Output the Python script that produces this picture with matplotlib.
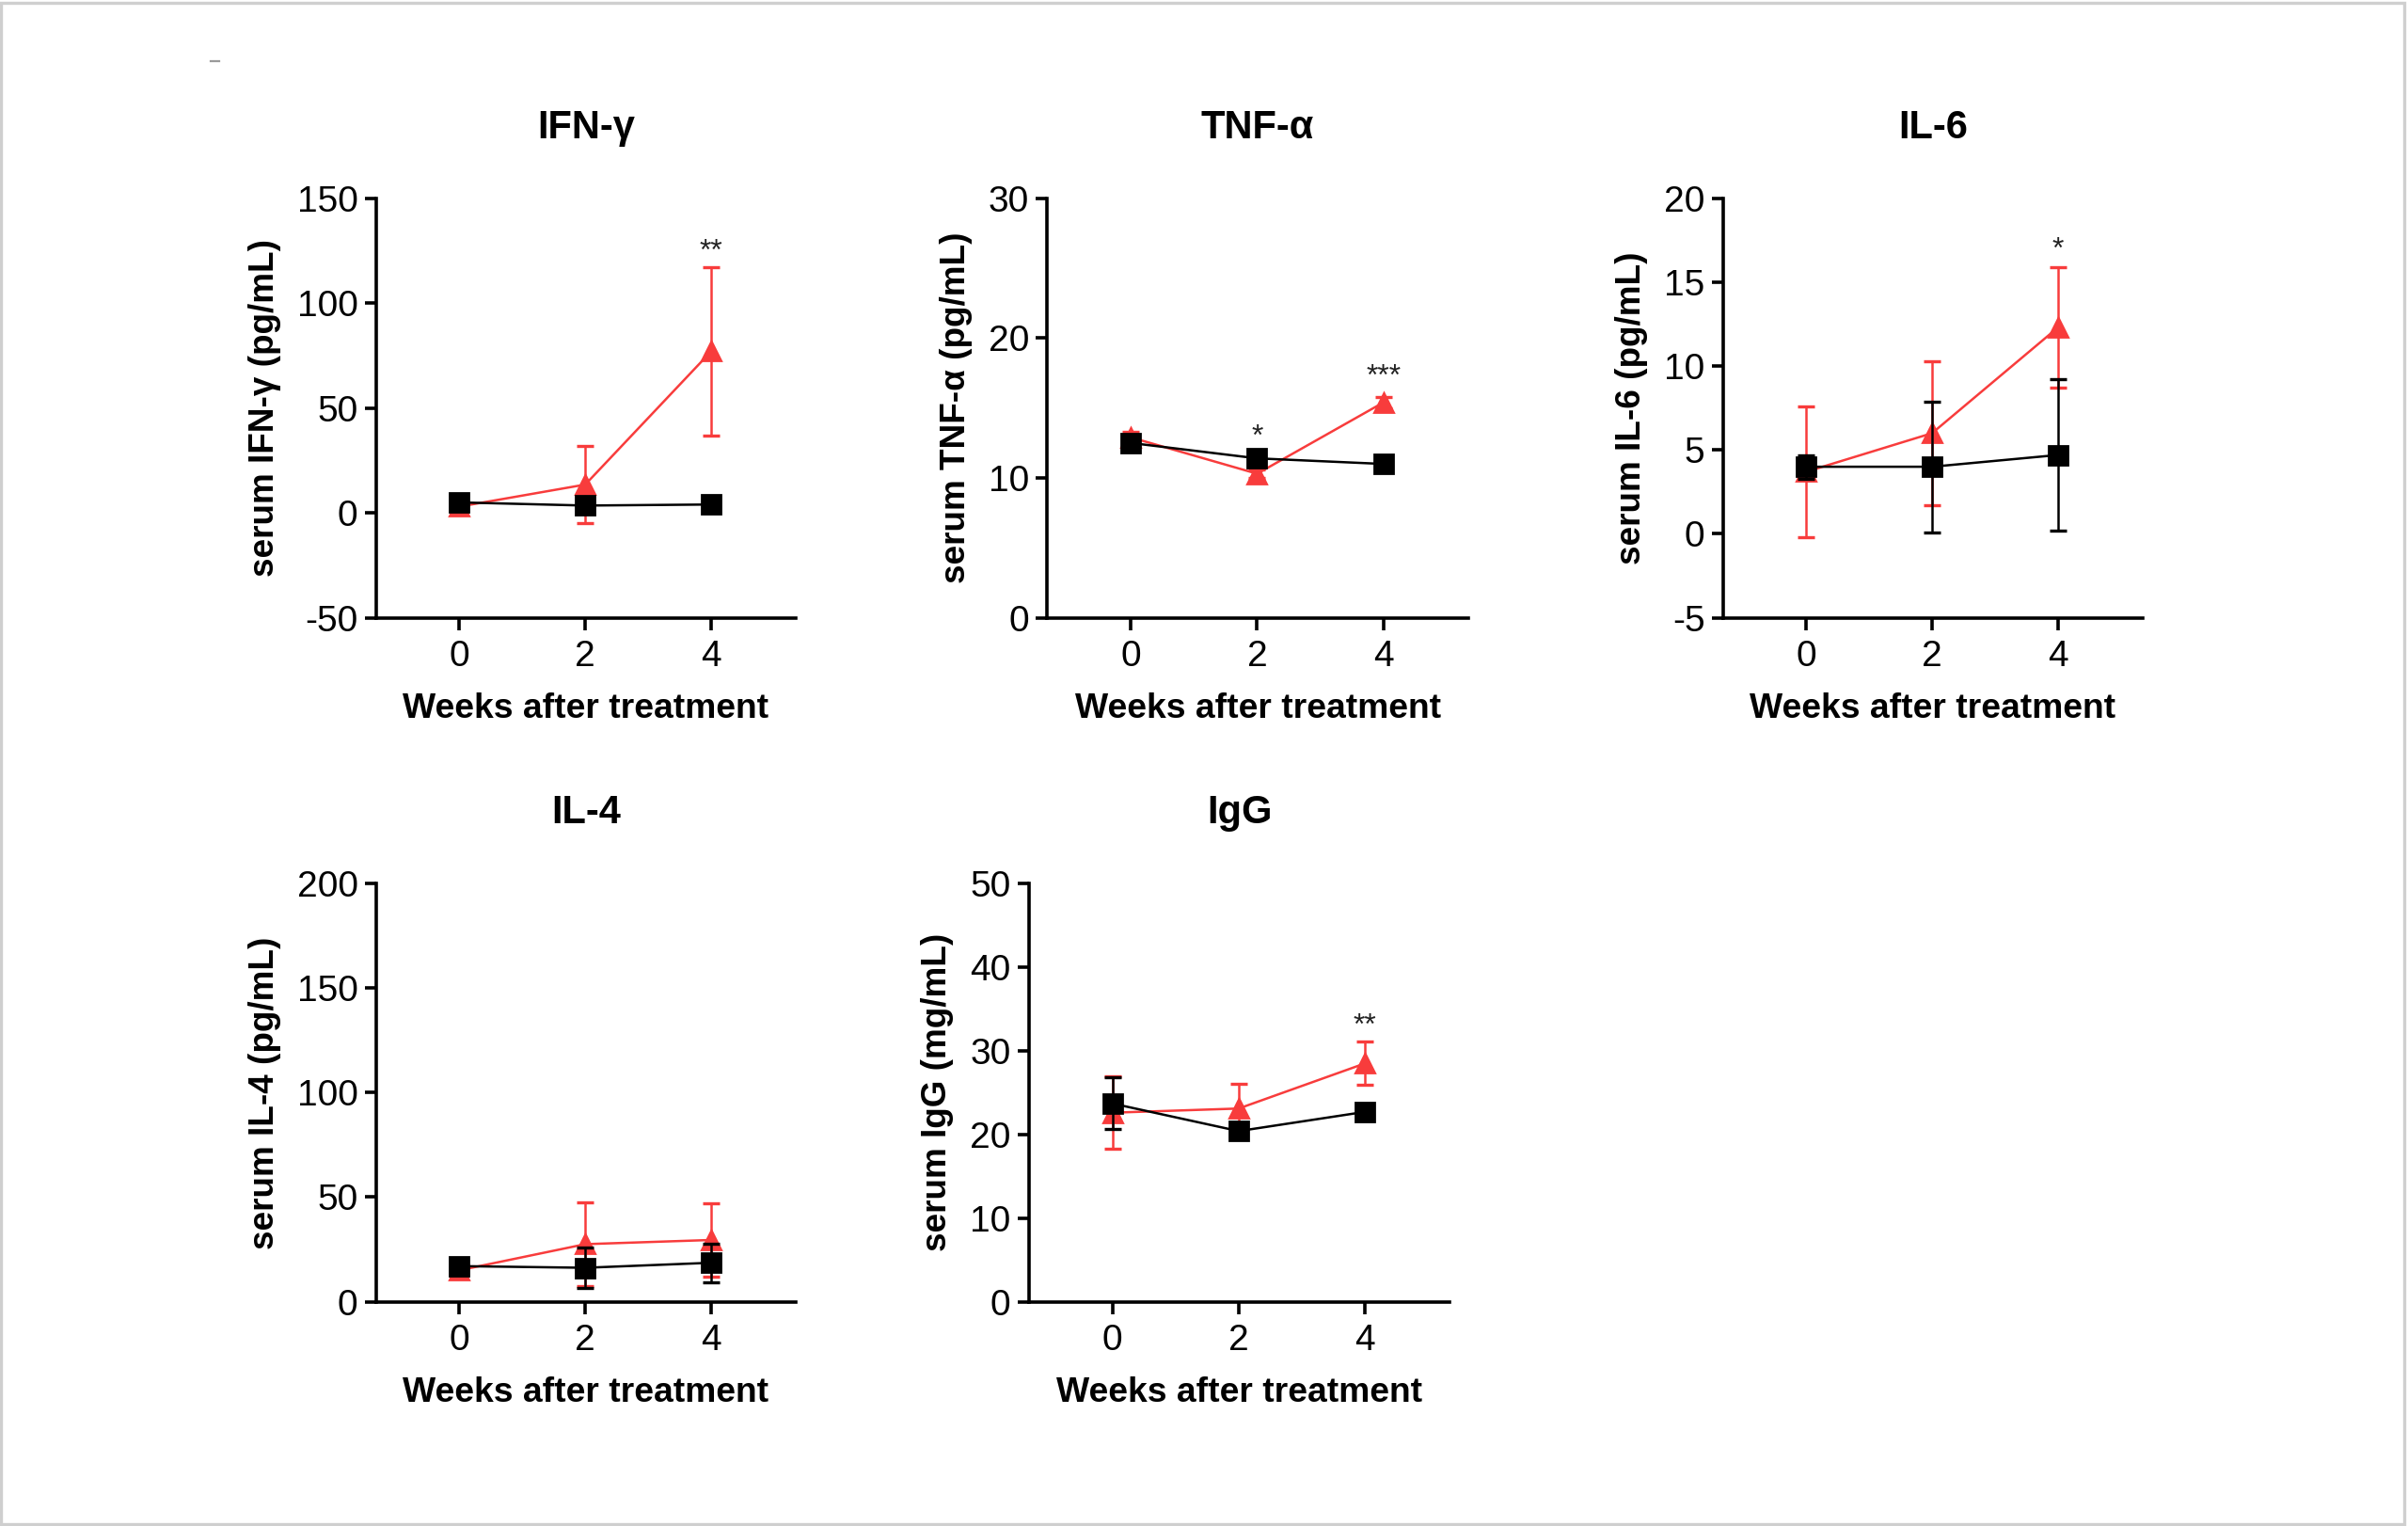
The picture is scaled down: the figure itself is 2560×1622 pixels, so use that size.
import matplotlib
matplotlib.use("Agg")
import matplotlib.pyplot as plt
from matplotlib.lines import Line2D
from matplotlib.patches import Rectangle

plt.rcParams['font.family'] = ['Liberation Sans', 'DejaVu Sans']

weeks = [0, 2, 4]

titles = ["IFN-γ", "TNF-α", "IL-6", "IL-4", "IgG"]
ylabels = ["serum IFN-γ (pg/mL)", "serum TNF-α (pg/mL)", "serum IL-6 (pg/mL)",
           "serum IL-4 (pg/mL)", "serum IgG (mg/mL)"]

# treatment group (red triangles)
ifn_red = [3.0, 13.5, 77.0]
ifn_red_err = [1.5, 18.5, 40.0]
tnf_red = [12.9, 10.3, 15.4]
tnf_red_err = [0.4, 0.3, 0.4]
il6_red = [3.7, 6.0, 12.3]
il6_red_err = [3.9, 4.3, 3.6]
il4_red = [15.0, 27.5, 29.5]
il4_red_err = [2.5, 20.0, 17.5]
igg_red = [22.6, 23.1, 28.5]
igg_red_err = [4.3, 2.9, 2.6]

# control group (black squares)
ifn_blk = [5.0, 3.5, 4.0]
ifn_blk_err = [1.0, 1.0, 1.0]
tnf_blk = [12.5, 11.4, 11.0]
tnf_blk_err = [0.5, 0.3, 0.3]
il6_blk = [4.0, 4.0, 4.7]
il6_blk_err = [0.7, 3.9, 4.5]
il4_blk = [17.0, 16.2, 18.6]
il4_blk_err = [2.0, 9.5, 9.3]
igg_blk = [23.7, 20.4, 22.7]
igg_blk_err = [3.1, 0.5, 0.5]

red_vals = [ifn_red, tnf_red, il6_red, il4_red, igg_red]
red_errs = [ifn_red_err, tnf_red_err, il6_red_err, il4_red_err, igg_red_err]
blk_vals = [ifn_blk, tnf_blk, il6_blk, il4_blk, igg_blk]
blk_errs = [ifn_blk_err, tnf_blk_err, il6_blk_err, il4_blk_err, igg_blk_err]

ylims = [(-50, 150), (0, 30), (-5, 20), (0, 200), (0, 50)]
yticks = [[-50, 0, 50, 100, 150], [0, 10, 20, 30], [-5, 0, 5, 10, 15, 20],
          [0, 50, 100, 150, 200], [0, 10, 20, 30, 40, 50]]

# significance marks: (week, y, text)
stars = [[(4, 127, "**")], [(2, 13.3, "*"), (4, 17.6, "***")], [(4, 17.2, "*")],
         [], [(4, 33.6, "**")]]

RED = '#F83C3C'

fig = plt.figure(figsize=(12.8, 8.11), dpi=200)

W, H = 1568.0, 993.0
boxes = [(245, 129, 518, 402), (682, 129, 956, 402), (1122, 129, 1395, 402),
         (245, 575, 518, 847), (670, 575, 944, 847)]

tickfont = dict(family=['Liberation Sans', 'DejaVu Sans'], size=14)

for i in range(5):
    x0, y0, x1, y1 = boxes[i]
    ax = fig.add_axes([x0 / W, 1 - y1 / H, (x1 - x0) / W, (y1 - y0) / H])
    ax.errorbar(weeks, red_vals[i], yerr=red_errs[i], color=RED, marker='^',
                markersize=7.5, linewidth=0.9, elinewidth=0.9, capsize=3.2,
                capthick=1.2, zorder=3)
    ax.errorbar(weeks, blk_vals[i], yerr=blk_errs[i], color='black', marker='s',
                markersize=7.5, linewidth=0.9, elinewidth=0.9, capsize=3.2,
                capthick=1.2, zorder=4)
    ax.set_xlim(-1.32, 5.34)
    ax.set_ylim(*ylims[i])
    ax.set_yticks(yticks[i])
    ax.set_xticks(weeks)
    for sp in ['top', 'right']:
        ax.spines[sp].set_visible(False)
    for sp in ['left', 'bottom']:
        ax.spines[sp].set_linewidth(1.3)
    ax.tick_params(axis='both', direction='out', length=4.5, width=1.3)
    ax.tick_params(axis='y', pad=2.5)
    ax.tick_params(axis='x', pad=4)
    ax.set_xticklabels([str(w) for w in weeks], fontdict=tickfont)
    ax.set_yticklabels([str(t) for t in yticks[i]], fontdict=tickfont)
    ax.set_xlabel("Weeks after treatment", fontsize=13.4, fontweight='bold', labelpad=7)
    ax.set_ylabel(ylabels[i], fontsize=13.3, fontweight='bold', labelpad=6)
    ax.set_title(titles[i], fontsize=15, fontweight='bold', pad=23)
    for (wx, sy, txt) in stars[i]:
        ax.annotate(txt, xy=(wx, sy), xytext=(0, -4.9), textcoords='offset points',
                    ha='center', va='baseline', fontsize=11.5, color='#222222')

# light frame and small dash
fig.add_artist(Rectangle((0.0005, 0.001), 0.998, 0.997, transform=fig.transFigure,
                         fill=False, edgecolor='#cfcfcf', linewidth=1.2))
fig.add_artist(Line2D([137 / W, 143 / W], [1 - 40 / H, 1 - 40 / H], transform=fig.transFigure,
                      color='#9a9a9a', linewidth=0.8))

fig.savefig("out.png", dpi=200)
